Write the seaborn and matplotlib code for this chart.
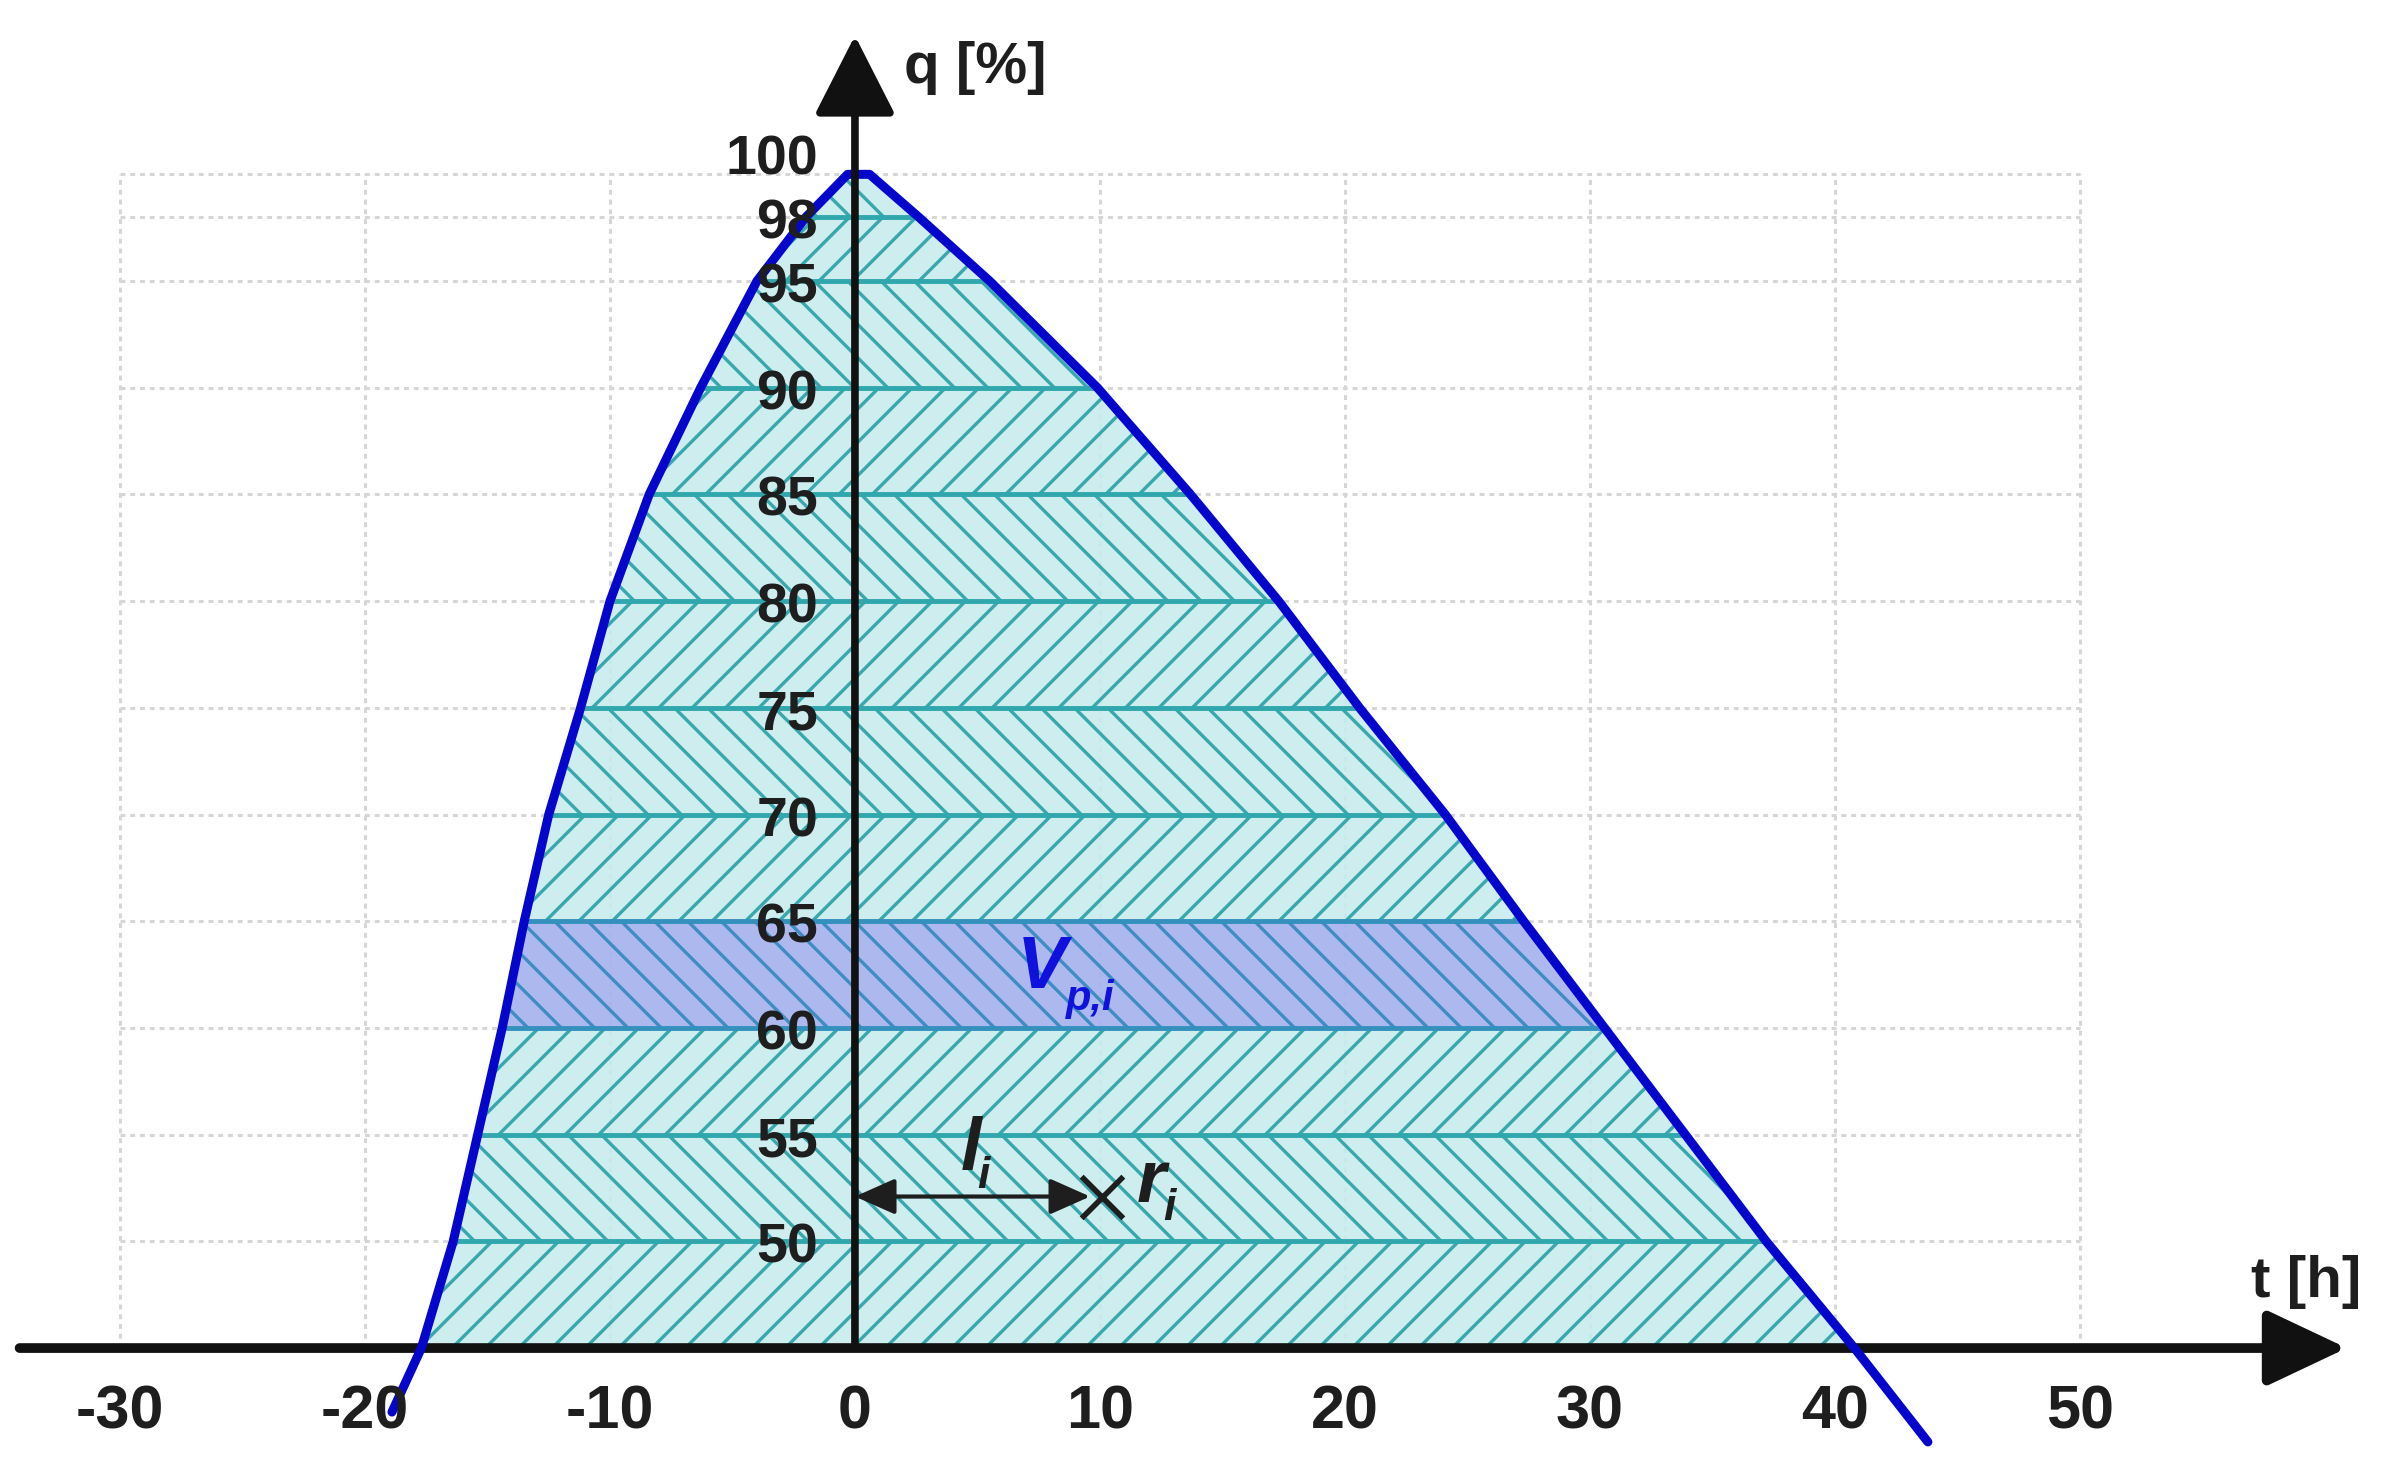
import numpy as np
import pandas as pd
import matplotlib
matplotlib.use('Agg')
import matplotlib.pyplot as plt
import seaborn as sns

# q levels (band edges) and the t values of the curve at each level
q_levels = [45, 50, 55, 60, 65, 70, 75, 80, 85, 90, 95, 98, 100]
t_left = [-17.7, -16.4, -15.4, -14.4, -13.5, -12.5, -11.2, -10.0, -8.4, -6.3, -4.0, -2.0, -0.3]
t_right = [40.8, 37.2, 33.9, 30.6, 27.3, 24.1, 20.6, 17.3, 13.7, 9.9, 5.5, 2.6, 0.6]
tail_left = [-18.9, 42.0]
tail_right = [43.8, 40.6]

x_ticks = [-30, -20, -10, 0, 10, 20, 30, 40, 50]
y_ticks = [50, 55, 60, 65, 70, 75, 80, 85, 90, 95, 98, 100]
highlight_band = 60

li_start, li_end, li_q = 0.0, 9.6, 52.1
r_point_t, r_point_q = [10.1], [52.1]

sns.set_theme(style='white')
plt.rcParams['font.family'] = ['Liberation Sans', 'DejaVu Sans']
plt.rcParams['hatch.linewidth'] = 2.4

curve = pd.DataFrame({
    't': [tail_left[0]] + t_left + t_right[::-1] + [tail_right[0]],
    'q': [tail_left[1]] + q_levels + q_levels[::-1] + [tail_right[1]],
})

fig = plt.figure(figsize=(23.86, 14.62), dpi=100)
ax = fig.add_axes([0, 0, 1, 1])
ax.set_xlim(-34.9, 62.5)
ax.set_ylim(39.66, 108.17)
ax.axis('off')

grid_c = '#d6d6d6'
ax.hlines(y_ticks, -30, 50, colors=grid_c, lw=2.2, linestyles=(0, (1.6, 1.6)), zorder=1)
ax.vlines(x_ticks, 45, 100, colors=grid_c, lw=2.2, linestyles=(0, (1.6, 1.6)), zorder=1)

# hatched bands
for k in range(len(q_levels) - 1):
    q0, q1 = q_levels[k], q_levels[k + 1]
    hatch = '/' if k % 2 == 0 else '\\'
    if q0 == highlight_band:
        face, hc = (0.65, 0.70, 0.93, 0.92), '#3f8cc2'
    else:
        face, hc = (0.78, 0.92, 0.93, 0.88), '#38a8ae'
    ax.fill_betweenx([q0, q1], [t_left[k], t_left[k + 1]], [t_right[k], t_right[k + 1]],
                     facecolor=face, edgecolor=hc, hatch=hatch, linewidth=0, zorder=2)

for k in range(1, len(q_levels) - 1):
    c = '#3490bd' if q_levels[k] in (highlight_band, highlight_band + 5) else '#2fa7ad'
    ax.hlines(q_levels[k], t_left[k], t_right[k], colors=c, lw=3.5, zorder=3)

sns.lineplot(data=curve, x='t', y='q', sort=False, estimator=None, color='#0505cc',
             lw=6.5, ax=ax, zorder=6, solid_capstyle='round', solid_joinstyle='round')

# axes with arrows
ax.annotate('', xy=(60.9, 45), xytext=(-34.1, 45),
            arrowprops=dict(arrowstyle='-|>,head_length=0.55,head_width=0.26', lw=7,
                            color='#111111', mutation_scale=90, shrinkA=0, shrinkB=0),
            zorder=5)
ax.annotate('', xy=(0, 106.5), xytext=(0, 45),
            arrowprops=dict(arrowstyle='-|>,head_length=0.55,head_width=0.28', lw=5.5,
                            color='#111111', mutation_scale=90, shrinkA=0, shrinkB=0),
            zorder=7)

txt = dict(color='#1e1e1e', fontweight='bold', zorder=8)
for t in x_ticks:
    ax.text(t, 41.95, str(t), ha='center', va='center', fontsize=44, **txt)
for q in y_ticks:
    yq = q + 0.65 if q == 100 else q - 0.35
    ax.text(-1.5, yq, str(q), ha='right', va='center', fontsize=40, **txt)

ax.text(2.0, 105.0, 'q [%]', ha='left', va='center', fontsize=42, **txt)
ax.text(57.0, 48.1, 't [h]', ha='left', va='center', fontsize=42, **txt)

# V_p,i label
ax.text(6.6, 61.85, 'V', ha='left', va='baseline', fontsize=54, fontstyle='italic',
        fontweight='bold', color='#1111dd', zorder=8)
ax.text(8.6, 60.85, 'p,i', ha='left', va='baseline', fontsize=30, fontstyle='italic',
        fontweight='bold', color='#1111dd', zorder=8)

# l_i arrow and r_i point
ax.annotate('', xy=(li_end, li_q), xytext=(li_start, li_q),
            arrowprops=dict(arrowstyle='<|-|>,head_length=0.45,head_width=0.2', lw=3,
                            color='#1e1e1e', mutation_scale=55, shrinkA=0, shrinkB=0),
            zorder=8)
sns.scatterplot(x=r_point_t, y=r_point_q, marker='x', s=900, color='#1e1e1e',
                linewidth=4, ax=ax, zorder=8)
ax.text(4.3, 53.35, 'l', ha='left', va='baseline', fontsize=54, fontstyle='italic',
        fontweight='bold', color='#1e1e1e', zorder=8)
ax.text(5.0, 52.5, 'i', ha='left', va='baseline', fontsize=32, fontstyle='italic',
        fontweight='bold', color='#1e1e1e', zorder=8)
ax.text(11.5, 51.85, 'r', ha='left', va='baseline', fontsize=54, fontstyle='italic',
        fontweight='bold', color='#1e1e1e', zorder=8)
ax.text(12.6, 51.0, 'i', ha='left', va='baseline', fontsize=32, fontstyle='italic',
        fontweight='bold', color='#1e1e1e', zorder=8)

ax.set_xlabel('')
ax.set_ylabel('')
fig.savefig('out.png', dpi=100, facecolor='white')
